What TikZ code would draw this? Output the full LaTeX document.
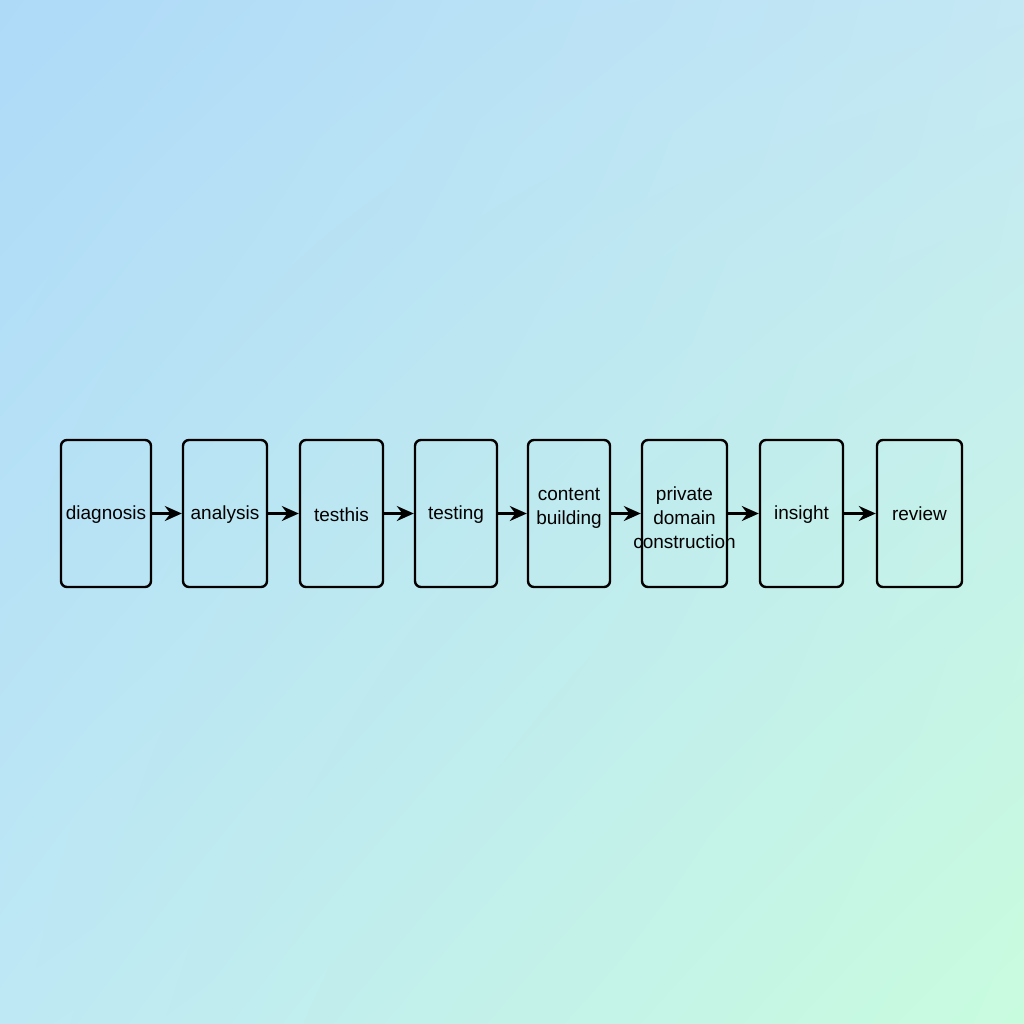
\documentclass[tikz,border=0pt]{standalone}
\usepackage{fontspec}
\setmainfont{Liberation Sans}
\usetikzlibrary{%
	arrows.meta,%
	shadings,%
	positioning
}
\definecolor{bgtl}{RGB}{174,218,248}
\definecolor{bgtr}{RGB}{196,232,244}
\definecolor{bgbl}{RGB}{190,232,244}
\definecolor{bgbr}{RGB}{200,252,222}
\tikzset{
	stage/.style={draw=black,line width=2.4pt,rounded corners=6pt,
		minimum height=147pt,inner sep=0pt},
	caption/.style={align=center,inner sep=0pt,
		font=\fontsize{19}{24}\selectfont},
	flow/.style={-{Stealth[length=17pt,width=15pt]},line width=2.4pt}
}

\begin{document}
\begin{tikzpicture}[x=1pt,y=-1pt]
			% Background
			\useasboundingbox (0,0) rectangle (1024,1024);
			\shade[upper left=bgtl,upper right=bgtr,lower left=bgbl,lower right=bgbr]
				(0,0) rectangle (1024,1024);
			
			% Stages (boxes)
			\node[stage,minimum width=90pt] (diag) at (106,513.5) {};
			\node[stage,minimum width=84pt] (anal) at (225,513.5) {};
			\node[stage,minimum width=83pt] (thes) at (341.5,513.5) {};
			\node[stage,minimum width=82pt] (test) at (456,513.5) {};
			\node[stage,minimum width=82pt] (cont) at (569,513.5) {};
			\node[stage,minimum width=85pt] (priv) at (684.5,513.5) {};
			\node[stage,minimum width=83pt] (insi) at (801.5,513.5) {};
			\node[stage,minimum width=85pt] (revi) at (919.5,513.5) {};
			
			% Labels
			\node[caption] (diagtxt) at ([yshift=-1pt]diag) {diagnosis};
			\node[caption] (analtxt) at ([yshift=-1pt]anal) {analysis};
			\node[caption] (thestxt) at ([yshift=-1pt]thes) {testhis};
			\node[caption] (testtxt) at ([yshift=-1pt]test) {testing};
			\node[caption] (conttxt) at ([yshift=5pt]cont) {content\\building};
			\node[caption] (privtxt) at ([yshift=-4pt]priv) {private\\domain\\construction};
			\node[caption] (insitxt) at ([yshift=-1pt]insi) {insight};
			\node[caption] (revitxt) at (revi) {review};
			
			% Arrows
			\foreach \a/\b in {diag/anal,anal/thes,thes/test,test/cont,cont/priv,priv/insi,insi/revi}
				\draw[flow] (\a.east) -- (\b.west);
		\end{tikzpicture}
\end{document}
